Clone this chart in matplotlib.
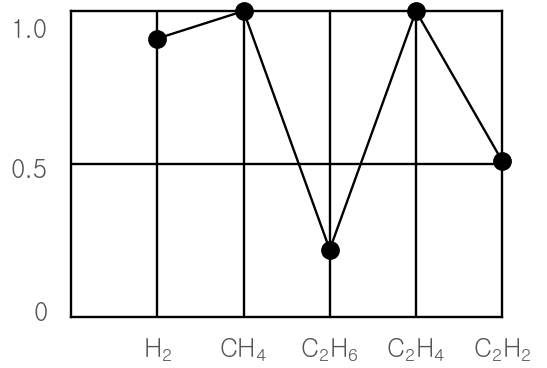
import matplotlib
matplotlib.use('Agg')
import matplotlib.pyplot as plt

label_font = 'Gulim'
plt.rcParams['mathtext.fontset'] = 'custom'
plt.rcParams['mathtext.rm'] = label_font
plt.rcParams['mathtext.it'] = label_font

# gases and their normalized values
gases = [r'$\mathregular{H_2}$', r'$\mathregular{CH_4}$', r'$\mathregular{C_2H_6}$',
         r'$\mathregular{C_2H_4}$', r'$\mathregular{C_2H_2}$']
values = [0.91, 1.0, 0.22, 1.0, 0.51]
y_labels = ['0', '0.5', '1.0']
# label spots sit a bit off the grid in the original
y_label_pos = [0.016, 0.484, 0.944]

fig = plt.figure(figsize=(5.47, 3.68), dpi=100)
ax = fig.add_axes([0.130, 0.139, 0.788, 0.831])

x = list(range(1, len(gases) + 1))

for xi in x[:-1]:
    ax.axvline(xi, color='black', linewidth=1.7, zorder=1)
ax.axhline(0.5, color='black', linewidth=1.7, zorder=1)

ax.plot(x, values, color='black', linewidth=1.7, marker='o',
        markersize=12.5, clip_on=False, zorder=3)

ax.set_xlim(0, len(gases))
ax.set_ylim(0, 1.0)
ax.set_xticks(x)
ax.set_xticklabels(gases, fontsize=18, color='#555555',
                   family=[label_font, 'DejaVu Sans'])
ax.set_yticks(y_label_pos)
ax.set_yticklabels(y_labels, fontsize=18, color='#555555',
                   family=[label_font, 'DejaVu Sans'])
ax.tick_params(length=0)
ax.tick_params(axis='x', pad=14)
ax.tick_params(axis='y', pad=17)

for s in ax.spines.values():
    s.set_linewidth(1.7)
    s.set_color('black')

fig.savefig('out.png', dpi=100)
